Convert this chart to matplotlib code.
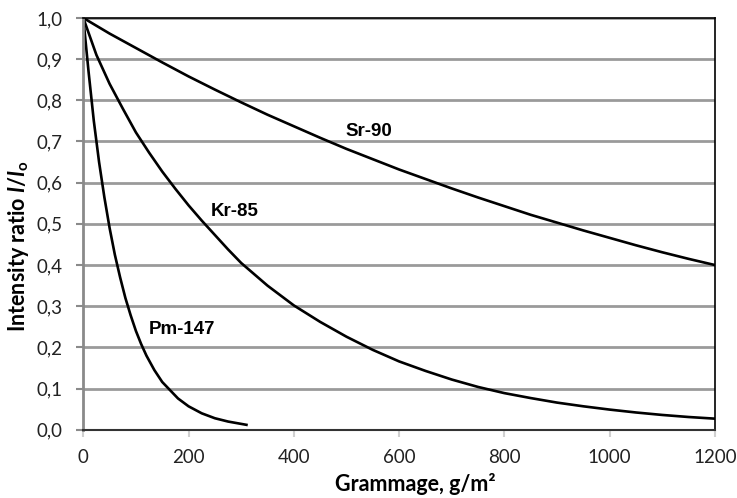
import matplotlib
matplotlib.use('Agg')
import matplotlib.pyplot as plt
from matplotlib.ticker import FuncFormatter

plt.rcParams['font.family'] = ['Lato', 'DejaVu Sans']
plt.rcParams['mathtext.fontset'] = 'custom'
plt.rcParams['mathtext.rm'] = 'Lato:bold'
plt.rcParams['mathtext.bf'] = 'Lato:bold'
plt.rcParams['mathtext.it'] = 'Lato:style=italic:weight=bold'

# values
sr_x = [0, 50, 100, 150, 200, 250, 300, 350, 400, 450, 500, 550, 600, 650, 700, 750, 800,
        850, 900, 950, 1000, 1050, 1100, 1150, 1200]
sr_y = [1.00, 0.962, 0.927, 0.892, 0.858, 0.826, 0.795, 0.765, 0.737, 0.709, 0.682, 0.657,
        0.632, 0.609, 0.586, 0.564, 0.543, 0.522, 0.503, 0.484, 0.466, 0.448, 0.431, 0.415, 0.40]

kr_x = [0, 25, 50, 75, 100, 125, 150, 175, 200, 225, 250, 275, 300, 350, 400, 450, 500, 550,
        600, 650, 700, 750, 800, 850, 900, 950, 1000, 1050, 1100, 1150, 1200]
kr_y = [1.00, 0.91, 0.84, 0.78, 0.722, 0.673, 0.627, 0.585, 0.545, 0.508, 0.473, 0.438, 0.405,
        0.350, 0.302, 0.262, 0.226, 0.194, 0.166, 0.143, 0.122, 0.104, 0.089, 0.077, 0.066,
        0.057, 0.049, 0.042, 0.036, 0.031, 0.027]

pm_x = [0, 10, 20, 30, 40, 50, 60, 70, 80, 90, 100, 110, 120, 135, 150, 165, 180, 200, 225,
        250, 275, 310]
pm_y = [1.00, 0.87, 0.75, 0.65, 0.565, 0.49, 0.425, 0.37, 0.32, 0.278, 0.24, 0.208, 0.18,
        0.145, 0.116, 0.096, 0.076, 0.057, 0.040, 0.028, 0.020, 0.012]

labels = ['Sr-90', 'Kr-85', 'Pm-147']
label_pos = [(542, 0.725), (288, 0.530), (187, 0.243)]

fig = plt.figure(figsize=(7.37, 4.98), dpi=100)
ax = fig.add_axes([0.113, 0.137, 0.857, 0.827])

ax.plot(sr_x, sr_y, color='black', lw=1.9)
ax.plot(kr_x, kr_y, color='black', lw=1.9)
ax.plot(pm_x, pm_y, color='black', lw=1.9)

for name, (lx, ly) in zip(labels, label_pos):
    ax.text(lx, ly, name, ha='center', va='center', fontsize=13.5,
            fontweight='bold', family='Liberation Sans')

ax.set_xlim(0, 1200)
ax.set_ylim(0, 1.0)
ax.set_xticks(range(0, 1201, 200))
ax.set_yticks([i / 10 for i in range(11)])
ax.yaxis.set_major_formatter(FuncFormatter(lambda v, p: f'{v:.1f}'.replace('.', ',')))
ax.grid(axis='y', color='#9a9a9a', lw=2)
ax.set_axisbelow(True)

ax.tick_params(axis='both', labelsize=13.5, colors='#222222', length=5, width=1.5)
ax.tick_params(axis='x', color='#d0d0d0', pad=9)
ax.tick_params(axis='y', color='#8a8a8a', pad=10)

ax.spines['left'].set_color('#8a8a8a')
ax.spines['left'].set_linewidth(2)
ax.spines['bottom'].set_color('#333333')
ax.spines['bottom'].set_linewidth(1.5)
ax.spines['top'].set_linewidth(1.2)
ax.spines['right'].set_linewidth(1.2)

ax.set_xlabel('Grammage, g/m²', fontsize=15.5, fontweight='bold')
ax.set_ylabel(r'Intensity ratio $I/I_\mathrm{o}$', fontsize=15.5, fontweight='bold')
ax.xaxis.set_label_coords(0.525, -0.105)
ax.yaxis.set_label_coords(-0.082, 0.445)

fig.savefig('out.png', dpi=100)
